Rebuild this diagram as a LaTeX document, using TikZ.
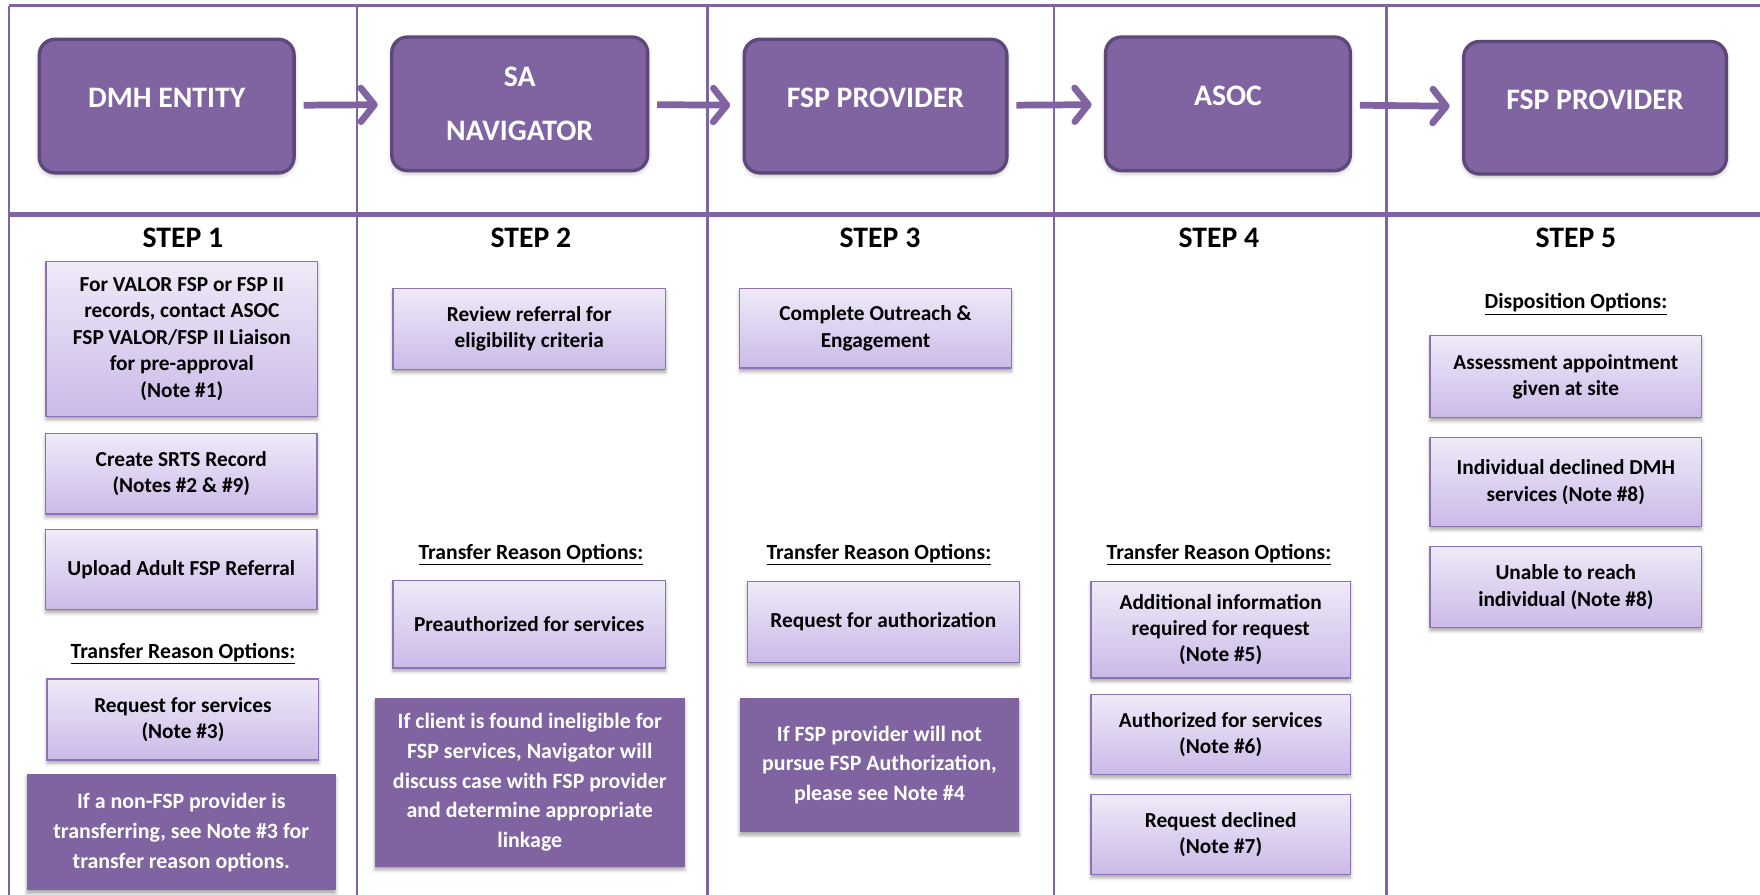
\documentclass[tikz,border=0pt]{standalone}
\usepackage{fontspec}
\setmainfont{Carlito}
\usetikzlibrary{arrows.meta,shadows.blur}

\definecolor{vpurple}{RGB}{128,100,162}
\definecolor{vdark}{RGB}{92,72,122}
\definecolor{vtop}{RGB}{239,234,248}
\definecolor{vbot}{RGB}{203,186,232}
\definecolor{vedge}{RGB}{142,114,182}

\begin{document}
\begin{tikzpicture} [
    x=1pt, y=-1pt,
    headbox/.style  = {draw=vdark,
                       line width=3pt,
                       fill=vpurple,
                       rounded corners=14pt,
                       text=white,
                       align=center,
                       font=\fontsize{26.5}{48}\selectfont\bfseries,
                       blur shadow={shadow xshift=0pt, shadow yshift=-2pt,
                                    shadow blur radius=4pt, shadow opacity=30}},
    lift/.style     = {text depth=15pt},
    lightbox/.style = {draw=vedge,
                       line width=1.2pt,
                       top color=vtop,
                       bottom color=vbot,
                       minimum width=242pt,
                       minimum height=72pt,
                       align=center,
                       font=\fontsize{19}{23.5}\selectfont\bfseries,
                       blur shadow={shadow xshift=0pt, shadow yshift=-3pt,
                                    shadow blur radius=3pt, shadow opacity=35}},
    darkbox/.style  = {fill=vpurple,
                       text=white,
                       align=center,
                       font=\fontsize{19.5}{26.5}\selectfont\bfseries,
                       blur shadow={shadow xshift=0pt, shadow yshift=-3pt,
                                    shadow blur radius=3pt, shadow opacity=35}},
    steplabel/.style = {font=\fontsize{26.5}{30}\selectfont\bfseries},
    optlabel/.style  = {font=\fontsize{19.3}{22}\selectfont\bfseries},
    grid/.style     = {draw=vpurple,
                       line width=2.5pt},
    arr/.style      = {draw=vpurple,
                       line width=6pt,
                       shorten <=7pt,
                       shorten >=11pt,
                       -{Straight Barb[length=12pt,width=30pt,round]}}
]
\useasboundingbox (0,0) rectangle (1568,797);

% table lines
\draw[grid] (8,5) -- (1568,5);
\draw[grid] (8,5) -- (8,797);
\draw[grid, line width=4pt] (8,191) -- (1568,191);
\foreach \xc in {318,630,939,1235}
    \draw[grid] (\xc,5) -- (\xc,797);

% header row
\node (h1) [headbox, lift, minimum width=227pt, minimum height=119pt] at (148.5,94.5) {DMH ENTITY};
\node (h2) [headbox, minimum width=228pt, minimum height=119pt] at (463,92.5) {SA\\NAVIGATOR};
\node (h3) [headbox, lift, minimum width=234pt, minimum height=119pt] at (780,94.5) {FSP PROVIDER};
\node (h4) [headbox, lift, minimum width=218pt, minimum height=119pt] at (1094,92.5) {ASOC};
\node (h5) [headbox, lift, minimum width=234pt, minimum height=118pt] at (1421,96) {FSP PROVIDER};
\draw[arr] (h1) -- (h2);
\draw[arr] (h2) -- (h3);
\draw[arr] (h3) -- (h4);
\draw[arr] (h4) -- (h5);

% step 1
\node (s1) [steplabel] at (163,212) {STEP 1};
\node (c1a) [lightbox, minimum height=138pt] at (162,302) {
For VALOR FSP or FSP II\\
records, contact ASOC\\
FSP VALOR/FSP II Liaison\\
for pre-approval\\
(Note \#1)
};
\node (c1b) [lightbox] at (161.5,422) {Create SRTS Record\\(Notes \#2 \& \#9)};
\node (c1c) [lightbox, minimum height=71pt] at (161.5,507.5) {Upload Adult FSP Referral};
\node (c1t) [optlabel] at (163,582) {\underline{Transfer Reason Options:}};
\node (c1d) [lightbox] at (163,641) {Request for services\\(Note \#3)};
\node (c1e) [darkbox, minimum width=275pt, minimum height=103pt] at (161.5,741.5) {
If a non-FSP provider is\\
transferring, see Note \#3 for\\
transfer reason options.
};

% step 2
\node (s2) [steplabel] at (473,212) {STEP 2};
\node (c2a) [lightbox, minimum width=243pt] at (471.5,293) {Review referral for\\eligibility criteria};
\node (c2t) [optlabel] at (473,494) {\underline{Transfer Reason Options:}};
\node (c2b) [lightbox, minimum width=243pt, minimum height=78pt] at (471.5,556) {Preauthorized for services};
\node (c2c) [darkbox, minimum width=276pt, minimum height=150pt] at (472,697) {
If client is found ineligible for\\
FSP services, Navigator will\\
discuss case with FSP provider\\
and determine appropriate\\
linkage
};

% step 3
\node (s3) [steplabel] at (784,212) {STEP 3};
\node (c3a) [lightbox, minimum height=71pt] at (780,292.5) {Complete Outreach \&\\Engagement};
\node (c3t) [optlabel] at (783,494) {\underline{Transfer Reason Options:}};
\node (c3b) [lightbox] at (787,554) {Request for authorization};
\node (c3c) [darkbox, minimum width=249pt, minimum height=119pt] at (783.5,681.5) {
If FSP provider will not\\
pursue FSP Authorization,\\
please see Note \#4
};

% step 4
\node (s4) [steplabel] at (1086,212) {STEP 4};
\node (c4t) [optlabel] at (1086,494) {\underline{Transfer Reason Options:}};
\node (c4a) [lightbox, minimum width=231pt, minimum height=86pt] at (1087.5,561) {
Additional information\\
required for request\\
(Note \#5)
};
\node (c4b) [lightbox, minimum width=231pt, minimum height=71pt] at (1087.5,654.5) {Authorized for services\\(Note \#6)};
\node (c4c) [lightbox, minimum width=231pt, minimum height=71pt] at (1087.5,743.5) {Request declined\\(Note \#7)};

% step 5
\node (s5) [steplabel] at (1404,212) {STEP 5};
\node (c5t) [optlabel] at (1404,271) {\underline{Disposition Options:}};
\node (c5a) [lightbox, minimum height=73pt] at (1395,335.5) {Assessment appointment\\given at site};
\node (c5b) [lightbox, minimum height=79pt] at (1395,429.5) {Individual declined DMH\\services (Note \#8)};
\node (c5c) [lightbox] at (1395,523) {Unable to reach\\individual (Note \#8)};
\end{tikzpicture}
\end{document}
